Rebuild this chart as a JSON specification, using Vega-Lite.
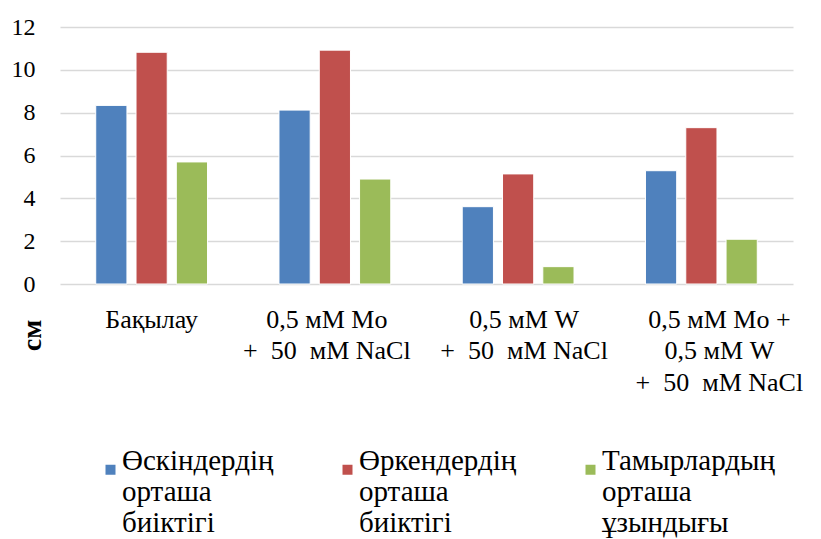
{
  "$schema": "https://vega.github.io/schema/vega-lite/v6.json",
  "width": 733,
  "height": 257,
  "autosize": "none",
  "padding": {"left": 60, "top": 27, "right": 28, "bottom": 255},
  "background": "white",
  "data": {
    "values": [
      {"group": "Бақылау", "series": "Өскіндердің орташа биіктігі", "value": 8.34},
      {"group": "Бақылау", "series": "Өркендердің орташа биіктігі", "value": 10.82},
      {"group": "Бақылау", "series": "Тамырлардың орташа ұзындығы", "value": 5.7},
      {"group": "0,5 мМ Mo + 50 мМ NaCl", "series": "Өскіндердің орташа биіктігі", "value": 8.12},
      {"group": "0,5 мМ Mo + 50 мМ NaCl", "series": "Өркендердің орташа биіктігі", "value": 10.92},
      {"group": "0,5 мМ Mo + 50 мМ NaCl", "series": "Тамырлардың орташа ұзындығы", "value": 4.9},
      {"group": "0,5 мМ W + 50 мМ NaCl", "series": "Өскіндердің орташа биіктігі", "value": 3.61},
      {"group": "0,5 мМ W + 50 мМ NaCl", "series": "Өркендердің орташа биіктігі", "value": 5.14},
      {"group": "0,5 мМ W + 50 мМ NaCl", "series": "Тамырлардың орташа ұзындығы", "value": 0.81},
      {"group": "0,5 мМ Mo + 0,5 мМ W + 50 мМ NaCl", "series": "Өскіндердің орташа биіктігі", "value": 5.29},
      {"group": "0,5 мМ Mo + 0,5 мМ W + 50 мМ NaCl", "series": "Өркендердің орташа биіктігі", "value": 7.3},
      {"group": "0,5 мМ Mo + 0,5 мМ W + 50 мМ NaCl", "series": "Тамырлардың орташа ұзындығы", "value": 2.09}
    ]
  },
  "mark": {"type": "bar", "stroke": "white", "strokeWidth": 1},
  "encoding": {
    "x": {
      "field": "group",
      "type": "nominal",
      "sort": null,
      "scale": {"paddingInner": 0.39, "paddingOuter": 0.195},
      "axis": {
        "title": null,
        "domain": false,
        "ticks": false,
        "labelAngle": 0,
        "labelPadding": 22,
        "labelBaseline": "top",
        "labelLimit": 400,
        "labelLineHeight": 31.5,
        "labelFontSize": 26,
        "labelOffset": {
          "condition": [
            {"test": "datum.value == '0,5 мМ Mo + 50 мМ NaCl'", "value": -8},
            {"test": "datum.value == '0,5 мМ W + 50 мМ NaCl'", "value": 6},
            {"test": "datum.value == '0,5 мМ Mo + 0,5 мМ W + 50 мМ NaCl'", "value": 18}
          ],
          "value": 0
        },
        "labelExpr": "datum.value == 'Бақылау' ? 'Бақылау' : datum.value == '0,5 мМ Mo + 50 мМ NaCl' ? ['0,5 мМ Mo', '+\u00a0 50\u00a0 мМ NaCl'] : datum.value == '0,5 мМ W + 50 мМ NaCl' ? ['0,5 мМ W', '+\u00a0 50\u00a0 мМ NaCl'] : ['0,5 мМ Mo +', '0,5 мМ W', '+\u00a0 50\u00a0 мМ NaCl']"
      }
    },
    "xOffset": {
      "field": "series",
      "type": "nominal",
      "sort": null,
      "scale": {"paddingInner": 0.225, "paddingOuter": 0}
    },
    "y": {
      "field": "value",
      "type": "quantitative",
      "scale": {"domain": [0, 12], "nice": false},
      "axis": {
        "title": "см",
        "values": [0, 2, 4, 6, 8, 10, 12],
        "domain": false,
        "ticks": false,
        "labelPadding": 25,
        "labelFontSize": 24,
        "grid": true,
        "gridColor": "#d9d9d9",
        "gridWidth": 1.5,
        "titleX": -28,
        "titleY": 308,
        "titleAngle": -90,
        "titleAlign": "center",
        "titleBaseline": "middle",
        "titleFontSize": 28,
        "titleFontWeight": "bold"
      }
    },
    "color": {
      "field": "series",
      "type": "nominal",
      "sort": null,
      "scale": {
        "domain": ["Өскіндердің орташа биіктігі", "Өркендердің орташа биіктігі", "Тамырлардың орташа ұзындығы"],
        "range": ["#4F81BD", "#C0504D", "#9BBB59"]
      },
      "legend": {
        "title": null,
        "orient": "none",
        "legendX": 36,
        "legendY": 428,
        "direction": "horizontal",
        "columns": 3,
        "columnPadding": 59,
        "padding": 0,
        "symbolType": "square",
        "symbolSize": 100,
        "symbolStrokeWidth": 0,
        "labelOffset": -3,
        "labelLimit": 400,
        "labelBaseline": "alphabetic",
        "labelLineHeight": 31.5,
        "labelFontSize": 29,
        "labelExpr": "split(datum.label, ' ')",
        "encode": {"labels": {"update": {"dy": {"value": 6}}}}
      }
    }
  },
  "config": {
    "font": "Times New Roman, Liberation Serif, serif",
    "view": {"stroke": null},
    "axis": {"labelColor": "#000000", "titleColor": "#000000"},
    "legend": {"labelColor": "#000000"}
  }
}
